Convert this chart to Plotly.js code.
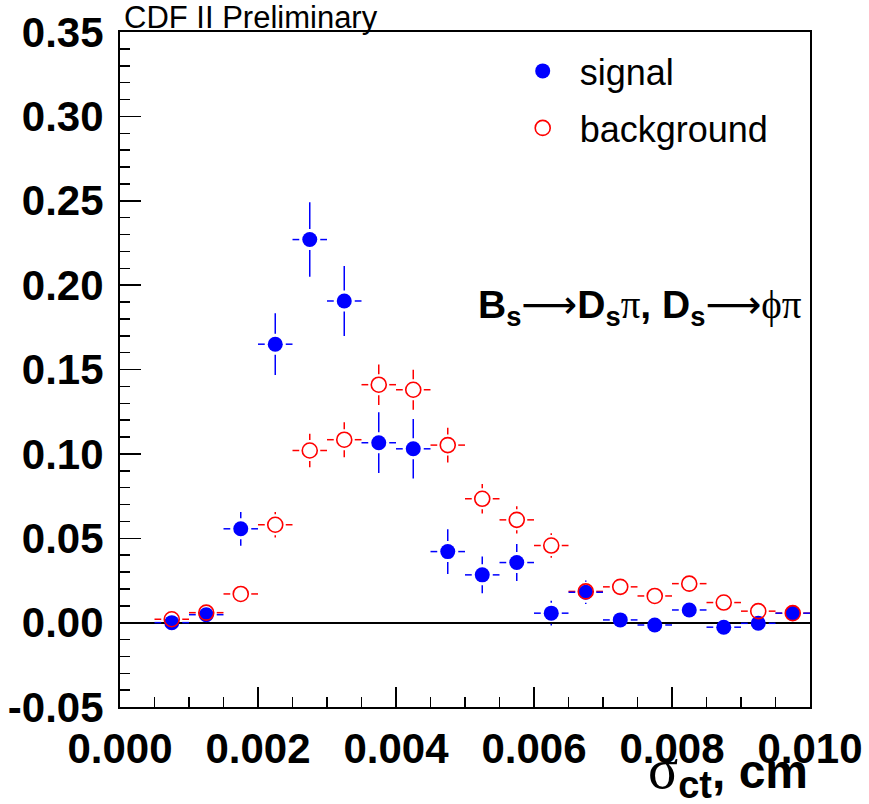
<!DOCTYPE html>
<html>
<head>
<meta charset="utf-8">
<script src="https://cdn.plot.ly/plotly-3.0.1.min.js"></script>
<style>
  html, body { margin: 0; padding: 0; background: #ffffff; }
  #chart { width: 869px; height: 804px; }
</style>
</head>
<body>
<div id="chart"></div>
<script>
// ---- data ----
const binCenters = [0.00075, 0.00125, 0.00175, 0.00225, 0.00275, 0.00325, 0.00375, 0.00425, 0.00475,
                    0.00525, 0.00575, 0.00625, 0.00675, 0.00725, 0.00775, 0.00825, 0.00875, 0.00925, 0.00975];
const binHalfWidth = 0.00025;

const signalValues = [0.0000, 0.0047, 0.0556, 0.1650, 0.2270, 0.1906, 0.1066, 0.1030, 0.0421,
                      0.0283, 0.0356, 0.0056, 0.0180, 0.0016, -0.0014, 0.0075, -0.0027, -0.0004, 0.0056];
const signalErrors = [0.002, 0.003, 0.0100, 0.0183, 0.0221, 0.0208, 0.0180, 0.0176, 0.0133,
                      0.0109, 0.0110, 0.0073, 0.0069, 0.004, 0.003, 0.005, 0.003, 0.003, 0.004];

const backgroundValues = [0.0020, 0.0059, 0.0170, 0.0580, 0.1020, 0.1084, 0.1410, 0.1380, 0.1052,
                          0.0734, 0.0609, 0.0457, 0.0185, 0.0212, 0.0158, 0.0231, 0.0119, 0.0068, 0.0056];
const backgroundErrors = [0.002, 0.003, 0.005, 0.0075, 0.0099, 0.0104, 0.0120, 0.0119, 0.0103,
                          0.0088, 0.0081, 0.0072, 0.005, 0.005, 0.004, 0.005, 0.004, 0.003, 0.003];

const yTickValues = [-0.05, 0.00, 0.05, 0.10, 0.15, 0.20, 0.25, 0.30, 0.35];
const yTickLabels = ["-0.05", "0.00", "0.05", "0.10", "0.15", "0.20", "0.25", "0.30", "0.35"];
const xTickValues = [0.000, 0.002, 0.004, 0.006, 0.008, 0.010];
const xTickLabels = ["0.000", "0.002", "0.004", "0.006", "0.008", "0.010"];

const seriesNames = ["signal", "background"];

// ---- layout constants ----
const W = 869, H = 804;
const MARGIN = { l: 120, r: 59, t: 32, b: 97 };
const X_RANGE = [0, 0.010];
const Y_RANGE = [-0.05, 0.35];
const FONT = "Liberation Sans, Arial, Helvetica, sans-serif";
const SERIF = "Liberation Serif, Times New Roman, serif";
const ARROWFONT = "DejaVu Sans";
const GAP_PX = 10.5;

const pxPerX = (W - MARGIN.l - MARGIN.r) / (X_RANGE[1] - X_RANGE[0]);
const pxPerY = (H - MARGIN.t - MARGIN.b) / (Y_RANGE[1] - Y_RANGE[0]);

// ROOT-style error bars with a gap around the marker
function errorSegments(xs, ys, yErrs, xHalf) {
  const gx = GAP_PX / pxPerX, gy = GAP_PX / pxPerY;
  const sx = [], sy = [];
  for (let i = 0; i < xs.length; i++) {
    const x = xs[i], y = ys[i], ey = yErrs[i];
    if (xHalf > gx) {
      sx.push(x - xHalf, x - gx, null, x + gx, x + xHalf, null);
      sy.push(y, y, null, y, y, null);
    }
    if (ey > gy) {
      sx.push(x, x, null, x, x, null);
      sy.push(y - ey, y - gy, null, y + gy, y + ey, null);
    }
  }
  return { x: sx, y: sy };
}

const bgSeg = errorSegments(binCenters, backgroundValues, backgroundErrors, binHalfWidth);
const sigSeg = errorSegments(binCenters, signalValues, signalErrors, binHalfWidth);

const traces = [
  { type: "scatter", mode: "lines", x: bgSeg.x, y: bgSeg.y, connectgaps: false,
    line: { color: "#ff0000", width: 1.5 }, showlegend: false, hoverinfo: "skip" },
  { type: "scatter", mode: "lines", x: sigSeg.x, y: sigSeg.y, connectgaps: false,
    line: { color: "#0000ff", width: 1.5 }, showlegend: false, hoverinfo: "skip" },
  { type: "scatter", mode: "markers", name: seriesNames[0], legend: "legend",
    x: binCenters, y: signalValues,
    marker: { symbol: "circle", size: 15, color: "#0000ff", line: { width: 0 } } },
  { type: "scatter", mode: "markers", name: seriesNames[1], legend: "legend2",
    x: binCenters, y: backgroundValues,
    marker: { symbol: "circle-open", size: 15, color: "#ff0000", line: { width: 1.6, color: "#ff0000" } } }
];

const arrow = '<span style="font-family:' + ARROWFONT + ';font-weight:normal">⟶</span>';
const serif = s => '<span style="font-family:' + SERIF + ';font-weight:normal">' + s + '</span>';

const legendStyle = (yPos) => ({
  x: 0.559, xanchor: "left", y: yPos, yanchor: "middle",
  font: { family: FONT, size: 36, color: "#000000" },
  bgcolor: "rgba(0,0,0,0)", borderwidth: 0,
  itemwidth: 64
});

const layout = {
  width: W, height: H,
  margin: MARGIN,
  paper_bgcolor: "#ffffff",
  plot_bgcolor: "#ffffff",
  font: { family: FONT, color: "#000000" },
  showlegend: true,
  legend: legendStyle((H - MARGIN.b - 71) / (H - MARGIN.t - MARGIN.b)),
  legend2: legendStyle((H - MARGIN.b - 128) / (H - MARGIN.t - MARGIN.b)),
  xaxis: {
    range: X_RANGE, tickmode: "array", tickvals: xTickValues, ticktext: xTickLabels,
    ticks: "inside", ticklen: 20, tickwidth: 1.5, tickcolor: "#000000",
    minor: { tickmode: "linear", tick0: 0, dtick: 0.0005, ticks: "inside", ticklen: 10, tickwidth: 1.5, tickcolor: "#000000" },
    showline: true, mirror: true, linecolor: "#000000", linewidth: 2,
    showgrid: false, zeroline: false,
    tickfont: { family: FONT, size: 42, color: "#000000", weight: "bold" },
    ticklabelstandoff: 4
  },
  yaxis: {
    range: Y_RANGE, tickmode: "array", tickvals: yTickValues, ticktext: yTickLabels,
    ticks: "inside", ticklen: 21, tickwidth: 1.5, tickcolor: "#000000",
    minor: { tickmode: "linear", tick0: 0, dtick: 0.01, ticks: "inside", ticklen: 10, tickwidth: 1.5, tickcolor: "#000000" },
    showline: true, mirror: true, linecolor: "#000000", linewidth: 2,
    showgrid: false, zeroline: true, zerolinecolor: "#000000", zerolinewidth: 2,
    tickfont: { family: FONT, size: 42, color: "#000000", weight: "bold" },
    ticklabelstandoff: 6
  },
  annotations: [
    { xref: "paper", yref: "paper", x: 0.004, y: 1.0, xanchor: "left", yanchor: "bottom",
      text: "CDF II Preliminary", showarrow: false, borderpad: 0, yshift: -4,
      font: { family: FONT, size: 31, color: "#000000" } },
    { xref: "paper", yref: "paper", x: 0.992, y: 0.593, xanchor: "right", yanchor: "middle",
      text: '<b>B<sub>s</sub></b>' + arrow + '<b>D<sub>s</sub></b>' + serif('π') + '<b>, D<sub>s</sub></b>' + arrow + serif('ϕπ'),
      showarrow: false, font: { family: FONT, size: 39, color: "#000000" } },
    { xref: "paper", yref: "paper", x: 1.0, y: -0.097, xanchor: "right", yanchor: "middle",
      text: '<span style="font-family:' + SERIF + ';font-size:56px">σ</span><b><sub><span style="font-size:38px">ct</span></sub>, cm</b>',
      showarrow: false, font: { family: FONT, size: 48, color: "#000000" } }
  ]
};

Plotly.newPlot("chart", traces, layout, { displayModeBar: false, staticPlot: true });
</script>
</body>
</html>
